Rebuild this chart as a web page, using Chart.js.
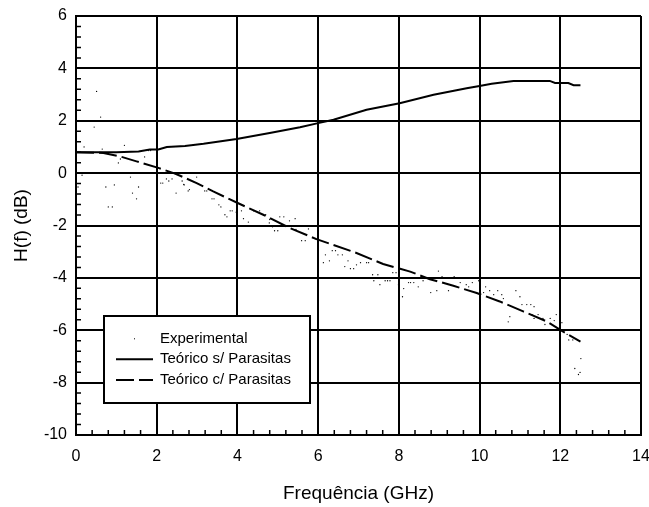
<!DOCTYPE html>
<html><head><meta charset="utf-8">
<script src="https://cdn.jsdelivr.net/npm/chart.js@4.4.1/dist/chart.umd.min.js"></script>
<style>html,body{margin:0;padding:0;background:#fff}#wrap{width:649px;height:507px}</style>
</head><body><div id="wrap"><canvas id="c" width="649" height="507"></canvas></div>
<script>
const seriesNames = ['Experimental', 'Teórico s/ Parasitas', 'Teórico c/ Parasitas'];
const xTitle = 'Frequência (GHz)';
const yTitle = 'H(f) (dB)';
const xRange = [0, 14];
const yRange = [-10, 6];
const xMajorStep = 2;
const yMajorStep = 2;
const minorStep = 0.4;

// Experimental (scattered dots)
const expX = [0.51,0.61,0.45,0.2,0.65,1.2,1.8,1.85,1.7,1.1,1.05,0.15,0.05,0.74,0.95,1.35,1.55,1.4,1.5,0.8,0.9,2.0,
  2.1,2.15,2.24,2.38,2.3,2.48,2.63,2.68,2.99,2.67,2.81,2.78,3.19,3.24,3.37,3.42,3.54,3.59,3.82,3.87,3.69,3.74,3.97,
  4.1,4.15,4.27,4.4,4.55,4.7,4.8,4.79,5.05,5.15,5.29,5.43,4.87,4.92,5.0,5.45,5.76,5.59,5.68,5.93,
  6.18,6.35,6.43,6.49,6.6,6.13,6.28,6.74,6.66,6.8,6.88,6.95,7.05,7.2,7.25,7.35,7.48,7.38,7.53,7.66,7.72,7.78,7.85,7.93,7.99,
  8.12,8.09,8.24,8.29,8.37,8.98,9.07,9.37,8.48,8.6,8.79,8.94,9.23,9.52,9.67,9.73,9.82,9.98,
  10.15,10.1,10.25,10.35,10.45,10.55,10.59,10.9,11.0,11.05,11.17,11.27,11.35,10.75,10.71,11.3,11.35,11.45,11.57,11.62,11.75,11.9,11.85,
  12.04,12.17,12.21,12.31,12.51,12.36,12.49,12.45];
const expY = [3.12,2.14,1.76,1.0,0.92,1.06,0.86,0.86,0.62,0.54,0.39,-0.08,-0.53,-0.53,-0.45,-0.15,-0.53,-0.76,-0.98,-1.29,-1.29,-0.27,
  -0.38,-0.38,-0.22,-0.22,-0.3,-0.76,-0.3,-0.45,-0.15,-0.43,-0.63,-0.68,-0.68,-0.68,-0.98,-0.98,-1.21,-1.29,-1.44,-1.44,-1.59,-1.67,-1.49,
  -1.44,-1.74,-1.87,-1.44,-1.44,-1.59,-1.77,-1.9,-1.67,-1.67,-1.82,-1.74,-2.05,-2.2,-2.2,-2.15,-2.13,-2.58,-2.58,-2.51,
  -3.12,-2.96,-2.96,-3.12,-3.12,-3.42,-3.35,-3.35,-3.57,-3.65,-3.65,-3.5,-3.42,-3.42,-3.42,-3.88,-3.88,-4.11,-4.26,-4.11,-4.11,-4.11,-3.8,-3.8,-4.26,
  -4.41,-4.72,-4.18,-4.18,-4.18,-3.74,-3.95,-3.95,-4.34,-4.11,-4.56,-4.49,-4.49,-4.18,-4.26,-4.34,-4.18,-4.11,
  -4.34,-4.56,-4.49,-4.64,-4.49,-4.64,-4.79,-4.49,-4.72,-5.02,-5.02,-5.02,-5.1,-5.48,-5.68,-5.4,-5.55,-5.4,-5.55,-5.78,-5.55,-5.4,-5.63,
  -5.71,-6.16,-6.37,-6.37,-7.08,-7.46,-7.61,-7.69];

// Teórico s/ Parasitas (solid)
const semX = [0,1.0,1.55,1.83,2.04,2.25,2.7,3.16,3.98,4.8,5.55,6.0,6.38,7.2,8.02,8.86,9.68,10.0,10.3,10.84,11.74,11.87,12.2,12.33,12.5];
const semY = [0.8,0.8,0.83,0.9,0.9,1.0,1.04,1.12,1.3,1.53,1.75,1.91,2.04,2.42,2.67,2.99,3.24,3.33,3.41,3.52,3.52,3.44,3.44,3.36,3.36];

// Teórico c/ Parasitas (dashed)
const comX = [0,0.68,1.09,1.5,2.04,2.42,2.58,2.99,3.4,4.02,4.64,5.3,5.96,6.95,7.61,8.28,8.77,9.35,9.93,10.5,11.08,11.66,12.07,12.5];
const comY = [0.8,0.77,0.64,0.45,0.2,0,-0.1,-0.38,-0.7,-1.15,-1.59,-2.1,-2.52,-3.05,-3.47,-3.76,-4.05,-4.3,-4.58,-4.9,-5.28,-5.66,-6.05,-6.43];

const pts = (xs, ys) => xs.map((v, i) => ({x: v, y: ys[i]}));
const FONT = "'Liberation Sans', Arial, sans-serif";

const minorTicks = {
  id: 'minorTicks',
  afterDatasetsDraw(chart) {
    const {ctx, chartArea: a, scales: {x, y}} = chart;
    ctx.save();
    ctx.strokeStyle = '#000';
    ctx.lineWidth = 1.5;
    ctx.beginPath();
    const nx = Math.round((xRange[1] - xRange[0]) / minorStep);
    const per = Math.round(xMajorStep / minorStep);
    for (let i = 1; i < nx; i++) {
      if (i % per === 0) continue;
      const px = x.getPixelForValue(xRange[0] + i * minorStep);
      ctx.moveTo(px, a.bottom); ctx.lineTo(px, a.bottom - 5);
    }
    const ny = Math.round((yRange[1] - yRange[0]) / minorStep);
    const pery = Math.round(yMajorStep / minorStep);
    for (let i = 1; i < ny; i++) {
      if (i % pery === 0) continue;
      const py = y.getPixelForValue(yRange[0] + i * minorStep);
      ctx.moveTo(a.left, py); ctx.lineTo(a.left + 5, py);
    }
    ctx.stroke();
    ctx.restore();
  }
};

const boxLegend = {
  id: 'boxLegend',
  afterDraw(chart) {
    const {ctx, chartArea: a} = chart;
    const bx = a.left + 28, by = a.top + 300, bw = 206, bh = 87;
    ctx.save();
    ctx.fillStyle = '#fff';
    ctx.fillRect(bx, by, bw, bh);
    ctx.strokeStyle = '#000';
    ctx.lineWidth = 2;
    ctx.strokeRect(bx, by, bw, bh);
    const rows = [23.3, 43.3, 64];
    chart.data.datasets.forEach((ds, i) => {
      const ry = by + rows[i];
      ctx.strokeStyle = '#000';
      ctx.fillStyle = '#000';
      if (i === 0) {
        ctx.fillRect(bx + 30, ry - 1, 1, 1);
      } else {
        ctx.lineWidth = ds.borderWidth;
        ctx.setLineDash(ds.borderDash || []);
        ctx.beginPath();
        ctx.moveTo(bx + 12, ry); ctx.lineTo(bx + 49, ry);
        ctx.stroke();
        ctx.setLineDash([]);
      }
      ctx.font = '15px ' + FONT;
      ctx.textBaseline = 'middle';
      ctx.textAlign = 'left';
      ctx.fillText(ds.label, bx + 56, ry);
    });
    ctx.restore();
  }
};

new Chart(document.getElementById('c'), {
  type: 'scatter',
  data: {
    datasets: [
      {label: seriesNames[0], data: pts(expX, expY), showLine: false, pointRadius: 0.65, pointBorderWidth: 0, backgroundColor: '#000', borderColor: '#000'},
      {label: seriesNames[1], data: pts(semX, semY), showLine: true, pointRadius: 0, borderWidth: 2, borderColor: '#000', tension: 0},
      {label: seriesNames[2], data: pts(comX, comY), showLine: true, pointRadius: 0, borderWidth: 2, borderColor: '#000', borderDash: [18, 5], tension: 0}
    ]
  },
  options: {
    responsive: false,
    animation: false,
    layout: {padding: {top: 16, right: 0, left: 0, bottom: 0}},
    plugins: {legend: {display: false}, tooltip: {enabled: false}},
    scales: {
      x: {
        type: 'linear', min: xRange[0], max: xRange[1],
        ticks: {stepSize: xMajorStep, color: '#000', font: {size: 16, family: FONT}, padding: 12, maxRotation: 0},
        grid: {color: '#000', lineWidth: 2, drawTicks: false},
        border: {color: '#000', width: 2},
        title: {display: true, text: xTitle, color: '#000', font: {size: 19, family: FONT}, padding: {top: 0, bottom: 2}},
        afterFit(s) { s.height = 72; s.paddingRight = 8; s.paddingLeft = 0; }
      },
      y: {
        type: 'linear', min: yRange[0], max: yRange[1],
        ticks: {stepSize: yMajorStep, color: '#000', font: {size: 16, family: FONT}, padding: 9},
        grid: {color: '#000', lineWidth: 2, drawTicks: false},
        border: {color: '#000', width: 2},
        title: {display: true, text: yTitle, color: '#000', font: {size: 19, family: FONT}, padding: {top: 10, bottom: 0}},
        afterFit(s) { s.width = 76; s.paddingTop = 0; s.paddingBottom = 0; }
      }
    }
  },
  plugins: [minorTicks, boxLegend]
});
</script>
</body></html>
